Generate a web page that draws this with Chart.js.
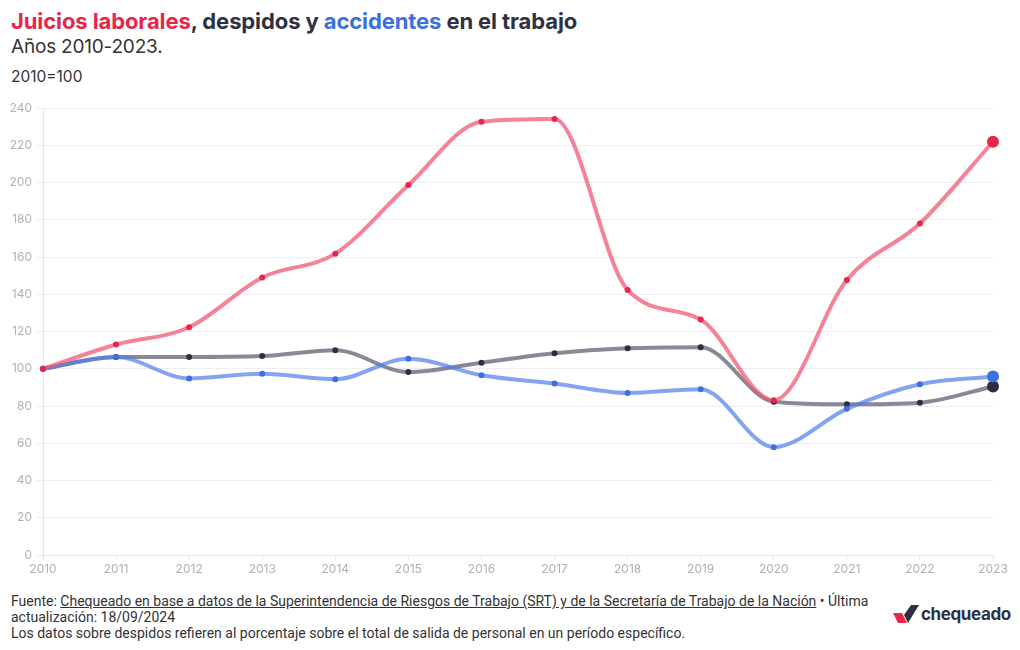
<!DOCTYPE html>
<html>
<head>
<meta charset="utf-8">
<script src="https://cdn.jsdelivr.net/npm/chart.js@4"></script>
<style>
  body { margin: 0; background: #fff; font-family: Inter, "Noto Sans", sans-serif; color: #2d3142; }
  #wrap { position: relative; width: 1020px; height: 650px; }
  h1 { position: absolute; left: 11px; top: 8px; margin: 0; font-size: 22px; font-weight: 700; letter-spacing: -0.1px; color: #2d3142; }
  .red { color: #e8264a; }
  .blue { color: #3d6fe0; }
  #sub { position: absolute; left: 11px; top: 35px; font-size: 19px; color: #333; letter-spacing: -0.2px; }
  #unit { position: absolute; left: 11px; top: 67px; font-size: 15.5px; color: #333; }
  #chartBox { position: absolute; left: 0; top: 95px; width: 1020px; height: 490px; }
  #foot { position: absolute; left: 11px; top: 593px; width: 870px; font-family: "Liberation Sans Narrow", "Roboto", sans-serif; font-size: 14px; line-height: 16px; color: #333; }
  #foot u { text-decoration: underline; }
  #logo { position: absolute; left: 893px; top: 604px; display: flex; align-items: center; }
  #logo span { font-family: Inter, sans-serif; font-weight: 700; font-size: 17px; color: #2d3142; margin-left: 2px; letter-spacing: -0.4px; }
</style>
</head>
<body>
<div id="wrap">
  <h1><span class="red">Juicios laborales</span>, despidos y <span class="blue">accidentes</span> en el trabajo</h1>
  <div id="sub">Años 2010-2023.</div>
  <div id="unit">2010=100</div>
  <div id="chartBox"><canvas id="myChart"></canvas></div>
  <div id="foot">Fuente: <u>Chequeado en base a datos de la Superintendencia de Riesgos de Trabajo (SRT) y de la Secretaría de Trabajo de la Nación</u> • Última actualización: 18/09/2024<br>Los datos sobre despidos refieren al porcentaje sobre el total de salida de personal en un período específico.</div>
  <div id="logo">
    <svg width="26" height="18" viewBox="0 0 26 18">
      <polygon points="0,8 9,8 14,18 5,18" fill="#e8264a"/>
      <polygon points="18,0 26,0 15,18 11,10" fill="#2d3142"/>
    </svg>
    <span>chequeado</span>
  </div>
</div>
<script>
const years = ["2010", "2011", "2012", "2013", "2014", "2015", "2016", "2017", "2018", "2019", "2020", "2021", "2022", "2023"];
const juicios = [100, 113.0, 122.3, 149.0, 161.8, 198.6, 232.6, 234.1, 142.3, 126.4, 83.1, 147.7, 178.0, 221.9];
const despidos = [100, 106.3, 106.3, 106.8, 109.9, 98.2, 103.2, 108.3, 111.0, 111.6, 82.3, 80.9, 81.8, 90.5];
const accidentes = [100, 106.3, 94.8, 97.3, 94.4, 105.4, 96.5, 92.1, 87.0, 89.0, 57.9, 78.5, 91.7, 95.8];
const yMax = 240;
const yStep = 20;

const radii = years.map((y, i) => (i === years.length - 1 ? 6 : 3));

function series(data, line, dot) {
  return {
    data: data,
    borderColor: line,
    backgroundColor: dot,
    pointBackgroundColor: dot,
    pointBorderWidth: 0,
    pointRadius: radii,
    pointHoverRadius: radii,
    borderWidth: 4,
    cubicInterpolationMode: "monotone",
    fill: false,
  };
}

const ctx = document.getElementById("myChart");
const chart = new Chart(ctx, {
  type: "line",
  data: {
    labels: years,
    datasets: [
      series(juicios, "rgba(240, 90, 116, 0.75)", "#e8264a"),
      series(accidentes, "rgba(80, 125, 235, 0.7)", "#3d6fe0"),
      series(despidos, "rgba(70, 76, 92, 0.65)", "#2a3042"),
    ],
  },
  options: {
    responsive: true,
    maintainAspectRatio: false,
    animation: false,
    layout: { padding: { top: 13, right: 27, left: 0, bottom: 0 } },
    plugins: { legend: { display: false }, tooltip: { enabled: false } },
    scales: {
      x: {
        grid: { drawOnChartArea: false, color: "#e6e6e6", tickLength: 5 },
        border: { color: "#e6e6e6" },
        ticks: { color: "#b0b0b0", font: { family: "Inter", size: 12 }, padding: 2, maxRotation: 0, autoSkip: false },
        afterFit: (s) => { s.height = 30; },
      },
      y: {
        min: 0,
        max: yMax,
        grid: { color: "#eeeeee", tickLength: 7 },
        border: { color: "#e6e6e6" },
        ticks: { stepSize: yStep, color: "#b0b0b0", font: { family: "Inter", size: 12 }, padding: 4 },
        afterFit: (s) => { s.width = 43; },
      },
    },
  },
});
</script>
</body>
</html>
